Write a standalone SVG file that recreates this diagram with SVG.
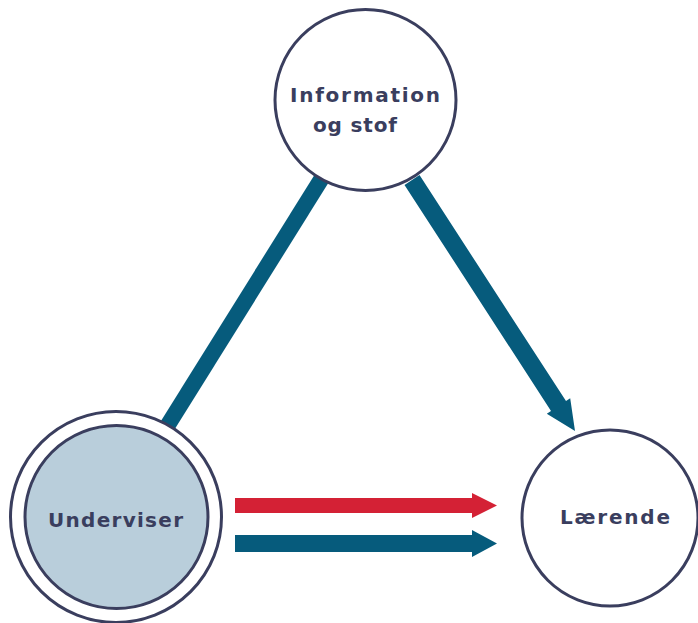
<svg xmlns="http://www.w3.org/2000/svg" width="698" height="623" viewBox="0 0 698 623">
<style>
.ring{fill:#ffffff;stroke:#3a3e5e;stroke-width:3}
.inner{fill:#b9cedb;stroke:#3a3e5e;stroke-width:3}
.lbl{font-family:"DejaVu Sans","Liberation Sans",sans-serif;font-weight:bold;font-size:20px;fill:#3a3e5e}
.blue{fill:#065b7c}
.red{fill:#d42135}
</style>
<rect width="698" height="623" fill="#ffffff"/>
<g id="connectors">
<line x1="322" y1="178" x2="166" y2="428" stroke="#065b7c" stroke-width="16"/>
<polygon class="blue" points="404.5,184.9 551,410.9 546.8,413.7 575,431 570.2,398.3 566,401.1 419.5,175.1"/>
<polygon class="red" points="235,498 472,498 472,493 497,505.5 472,518 472,513 235,513"/>
<polygon class="blue" points="235,535 472,535 472,530 497,543.5 472,557 472,552 235,552"/>
</g>
<g id="node-information">
<circle class="ring" cx="365.5" cy="100" r="90.5"/>
<text class="lbl" x="290" y="102" textLength="150" lengthAdjust="spacing">Information</text>
<text class="lbl" x="313" y="132" textLength="84" lengthAdjust="spacing">og stof</text>
</g>
<g id="node-underviser">
<circle class="ring" cx="116" cy="517" r="105.5"/>
<circle class="inner" cx="116.5" cy="517" r="91.5"/>
<text class="lbl" x="48" y="527" textLength="135" lengthAdjust="spacing">Underviser</text>
</g>
<g id="node-laerende">
<circle class="ring" cx="610" cy="518" r="88"/>
<text class="lbl" x="560" y="524" textLength="110" lengthAdjust="spacing">Lærende</text>
</g>
</svg>
